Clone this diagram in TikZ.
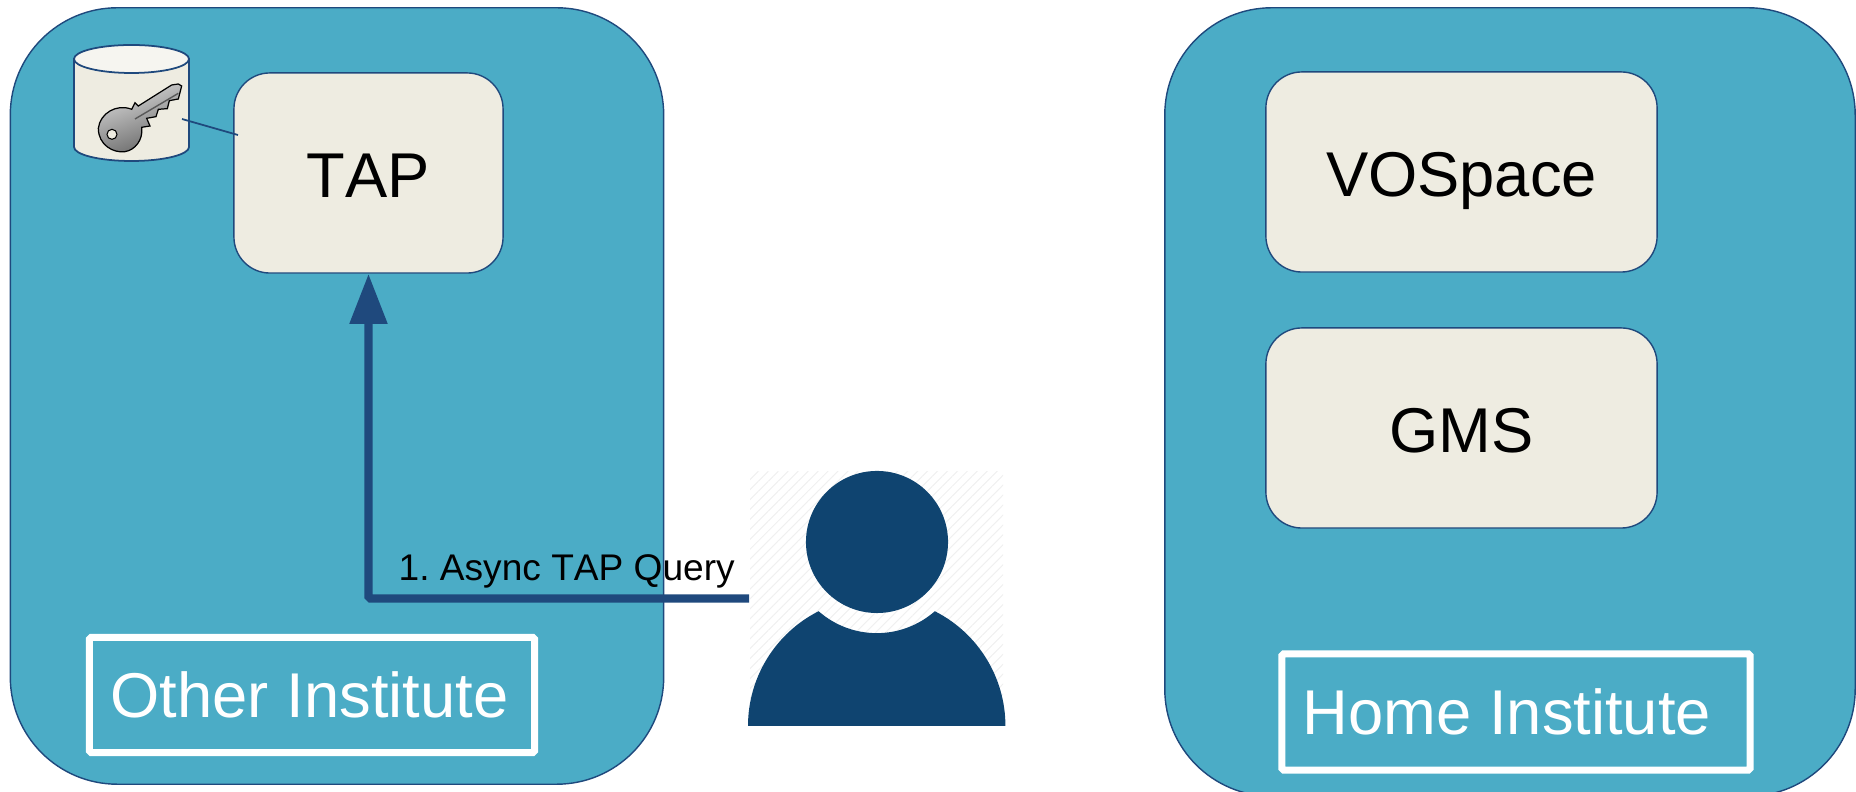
\documentclass[tikz,border=0pt]{standalone}
\usepackage{fontspec}
\setmainfont[Kerning=Off]{Liberation Sans}
\usetikzlibrary{arrows.meta,patterns.meta}
\definecolor{panelblue}{HTML}{4BACC6}
\definecolor{boxcream}{HTML}{EEECE1}
\definecolor{edgeblue}{HTML}{1F497D}
\definecolor{userblue}{HTML}{0F4470}
\tikzset{
  panel/.style={draw=edgeblue, line width=0.4pt, fill=panelblue, rounded corners=1.07cm},
  service/.style={draw=edgeblue, line width=0.4pt, fill=boxcream, rounded corners=0.36cm, text height=14pt, text depth=0pt, font=\fontsize{18}{22}\selectfont},
  tag/.style={draw=white, line width=2pt, rounded corners=0.5pt},
  tagtext/.style={text=white, font=\fontsize{18}{22}\selectfont},
}
\begin{document}
\frenchspacing
\begin{tikzpicture}[x=0.01cm, y=-0.01cm, inner sep=0pt]
\useasboundingbox (0,0) rectangle (1856,792);
\node[panel, minimum width=6.53cm, minimum height=7.76cm] (other) at (337,396) {};
\node[panel, minimum width=6.9cm, minimum height=7.88cm] (home) at (1510,402) {};
\node[service, minimum width=2.69cm, minimum height=2cm] (tap) at (368.5,173) {TAP};
\node[service, minimum width=3.91cm, minimum height=2cm] (vospace) at (1461.5,172) {VOSpace};
\node[service, minimum width=3.91cm, minimum height=2cm] (gms) at (1461.5,428) {GMS};
\node[tag, minimum width=4.45cm, minimum height=1.15cm] (otherlabel) at (312,695) {};
\node[tag, minimum width=4.68cm, minimum height=1.16cm] (homelabel) at (1516,712) {};
\node[tagtext] (othertext) at (309.5,695) {Other Institute};
\node[tagtext] (hometext) at (1507,712) {Home Institute};
% key store
\draw[edgeblue, line width=0.5pt, fill=boxcream] (74,59) -- (74,147) arc[start angle=180, end angle=360, x radius=0.575cm, y radius=0.14cm] -- (189,59) -- cycle;
\draw[edgeblue, line width=0.5pt, fill=boxcream!50!white] (131.5,59) ellipse[x radius=0.575cm, y radius=0.14cm];
\begin{scope}[shift={(50,30)}, scale=1/3]
\draw[line width=0.35pt, shading=axis, left color=black!15, right color=black!60, shading angle=20] (245,238) .. controls (200,220) and (150,250) .. (145,295) .. controls (145,345) and (190,370) .. (225,365) .. controls (255,360) and (280,330) .. (275,292) -- (300,288) -- (290,265) -- (318,260) -- (325,238) -- (352,236) -- (358,212) -- (385,207) -- (395,168) -- (385,162) -- (365,165) -- (265,228) -- (255,218) -- cycle;
\draw[black!65, line width=0.4pt] (255,267) -- (385,190);
\node[draw, line width=0.3pt, fill=boxcream, circle, minimum size=0.1cm] (keyhole) at (186,313) {};
\end{scope}
\coordinate (keyend) at (182,119);
\coordinate (tapend) at (238,135);
\draw[edgeblue, line width=0.5pt] (keyend) -- (tapend);
% user
\fill[pattern={Lines[angle=45, distance=2pt, line width=0.3pt]}, pattern color=black!6] (750,472) rectangle (1003,726);
\node[circle, fill=userblue, minimum size=1.42cm] (userhead) at (877,542) {};
\fill[userblue] (748,726) arc[start angle=180, end angle=116.8, radius=1.285cm] arc[start angle=228.7, end angle=311.3, radius=0.88cm] arc[start angle=63.2, end angle=0, radius=1.285cm] -- cycle;
\coordinate (userport) at (749,598.5);
\draw[edgeblue, line width=2.3pt, rounded corners=0.5pt, -{Triangle[length=0.5cm, width=0.36cm]}] (userport) -| (tap.south);
\node[font=\fontsize{10.55}{13}\selectfont, anchor=base west] (querylabel) at (398,581) {1. Async TAP Query};
\end{tikzpicture}
\end{document}
